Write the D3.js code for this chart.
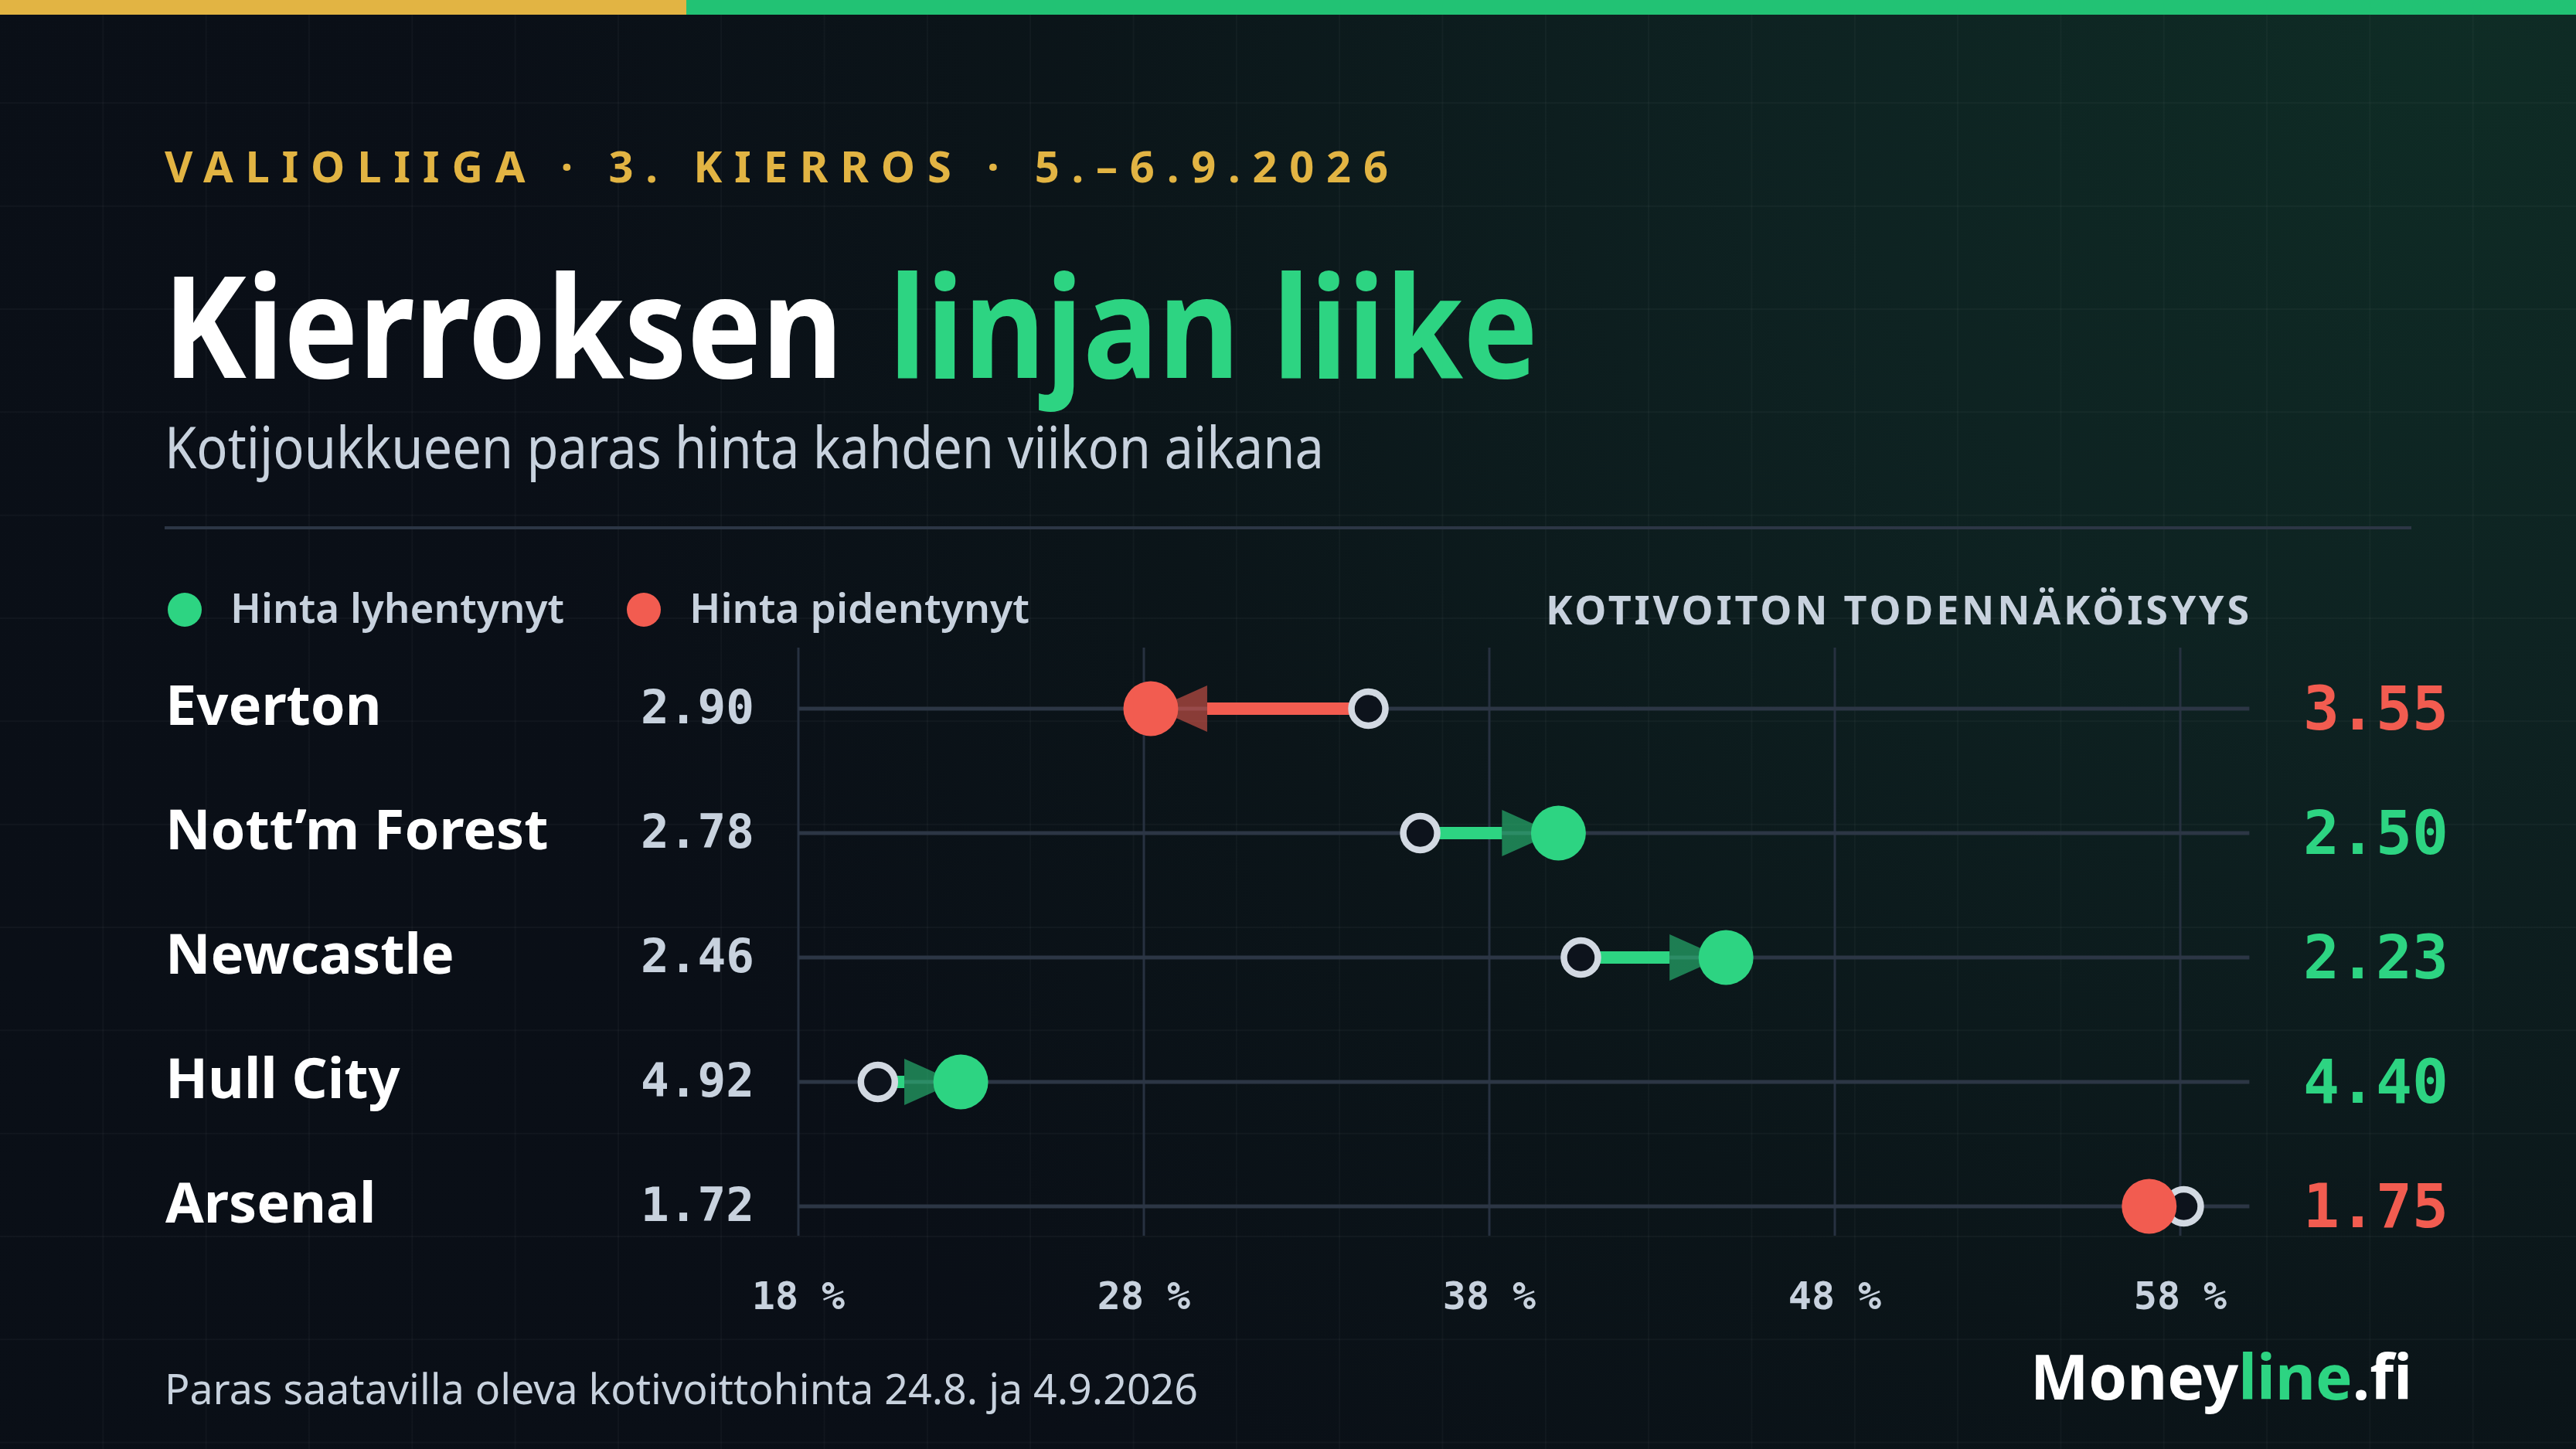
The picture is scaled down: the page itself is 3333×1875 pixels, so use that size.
<!DOCTYPE html>
<html>
<head>
<meta charset="utf-8">
<script src="https://cdn.jsdelivr.net/npm/d3@7"></script>
<style>
  html, body { margin: 0; padding: 0; background: #0a0f17; }
  svg { display: block; }
</style>
</head>
<body>
<script>
// ---------------- DATA ----------------
const kicker = "VALIOLIIGA · 3. KIERROS · 5.–6.9.2026";
const titleWhite = "Kierroksen";
const titleGreen = "linjan liike";
const subtitle = "Kotijoukkueen paras hinta kahden viikon aikana";
const legendLabels = ["Hinta lyhentynyt", "Hinta pidentynyt"];
const axisTitle = "KOTIVOITON TODENNÄKÖISYYS";
const footnote = "Paras saatavilla oleva kotivoittohinta 24.8. ja 4.9.2026";
const brand = ["Money", "line", ".fi"];

const teams = ["Everton", "Nott’m Forest", "Newcastle", "Hull City", "Arsenal"];
const oddsOpen = ["2.90", "2.78", "2.46", "4.92", "1.72"];
const oddsNow  = ["3.55", "2.50", "2.23", "4.40", "1.75"];
// implied home-win probability (%)
const probOpen = [34.5, 36.0, 40.65, 20.3, 58.1];
const probNow  = [28.2, 40.0, 44.85, 22.7, 57.1];
const ticks = [18, 28, 38, 48, 58];
const tickLabels = ["18 %", "28 %", "38 %", "48 %", "58 %"];

// ---------------- STYLE ----------------
const W = 3333, H = 1875;
const C = {
  green: "#2dd482", red: "#f25c50", gold: "#e2b443",
  text: "#c8d2de", white: "#ffffff", rule: "#2c3645",
  grid: "#273140", ringStroke: "#d2d9e2", ringFill: "#0d131c"
};
const SANS = "'Noto Sans', 'Open Sans', sans-serif";
const MONO = "'DejaVu Sans Mono', 'Liberation Mono', monospace";

const svg = d3.select("body").append("svg").attr("width", W).attr("height", H);
const defs = svg.append("defs");

// background
const rg = defs.append("radialGradient").attr("id", "glow")
  .attr("gradientUnits", "userSpaceOnUse").attr("cx", 3200).attr("cy", 0).attr("r", 2600);
rg.append("stop").attr("offset", 0).attr("stop-color", "#0f2e26");
rg.append("stop").attr("offset", 0.35).attr("stop-color", "#0e2322");
rg.append("stop").attr("offset", 0.7).attr("stop-color", "#0b1519");
rg.append("stop").attr("offset", 1).attr("stop-color", "#0a0f17");
const lg = defs.append("linearGradient").attr("id", "base").attr("x1", 0).attr("y1", 0).attr("x2", 0).attr("y2", 1);
lg.append("stop").attr("offset", 0).attr("stop-color", "#0c131c");
lg.append("stop").attr("offset", 1).attr("stop-color", "#090d14");
svg.append("rect").attr("width", W).attr("height", H).attr("fill", "url(#base)");
svg.append("rect").attr("width", W).attr("height", H).attr("fill", "url(#glow)").attr("opacity", 0.95);

// faint background grid
const bgGrid = svg.append("g").attr("stroke", "#ffffff").attr("stroke-opacity", 0.03).attr("stroke-width", 2);
d3.range(1, 25).forEach(i => bgGrid.append("line").attr("x1", i * W / 25).attr("x2", i * W / 25).attr("y1", 0).attr("y2", H));
d3.range(1, 15).forEach(i => bgGrid.append("line").attr("y1", i * 133.33).attr("y2", i * 133.33).attr("x1", 0).attr("x2", W));

// top bar
svg.append("rect").attr("x", 0).attr("y", 0).attr("width", 888).attr("height", 19).attr("fill", C.gold);
svg.append("rect").attr("x", 888).attr("y", 0).attr("width", W - 888).attr("height", 19).attr("fill", "#22c274");

// helpers
function fitSpacing(sel, target) {
  const n = sel.text().length;
  const w0 = sel.node().getComputedTextLength();
  sel.attr("letter-spacing", ((target - w0) / (n - 1)).toFixed(2));
}
function fitLength(sel, target) {
  sel.attr("textLength", target).attr("lengthAdjust", "spacingAndGlyphs");
}

// kicker
const k = svg.append("text").attr("x", 213).attr("y", 236).text(kicker)
  .attr("font-family", SANS).attr("font-weight", 700).attr("font-size", 56).attr("fill", C.gold);
fitSpacing(k, 1583);

// title
const t1 = svg.append("text").attr("x", 211).attr("y", 489).text(titleWhite)
  .attr("font-family", SANS).attr("font-weight", 700).attr("font-size", 184).attr("fill", C.white);
fitLength(t1, 880);
const t2 = svg.append("text").attr("x", 1150).attr("y", 489).text(titleGreen)
  .attr("font-family", SANS).attr("font-weight", 700).attr("font-size", 184).attr("fill", C.green);
fitLength(t2, 840);

// subtitle
const st = svg.append("text").attr("x", 213).attr("y", 606).text(subtitle)
  .attr("font-family", SANS).attr("font-weight", 400).attr("font-size", 74).attr("fill", C.text);
fitLength(st, 1500);

// divider
svg.append("line").attr("x1", 213).attr("x2", 3120).attr("y1", 683).attr("y2", 683)
  .attr("stroke", C.rule).attr("stroke-width", 4);

// legend
const legendX = [239, 833];
const legendColors = [C.green, C.red];
const legendW = [432, 440];
legendLabels.forEach((lab, i) => {
  svg.append("circle").attr("cx", legendX[i]).attr("cy", 789).attr("r", 22).attr("fill", legendColors[i]);
  const lt = svg.append("text").attr("x", legendX[i] + 59).attr("y", 806).text(lab)
    .attr("font-family", SANS).attr("font-weight", 600).attr("font-size", 52).attr("fill", C.text);
  fitLength(lt, legendW[i]);
});

// axis title
const at = svg.append("text").attr("x", 2000).attr("y", 808).text(axisTitle)
  .attr("font-family", SANS).attr("font-weight", 700).attr("font-size", 52).attr("fill", C.text);
fitSpacing(at, 910);

// ---------------- CHART ----------------
const x = d3.scaleLinear().domain([18, 58]).range([1033, 2821]);
const y = d3.scalePoint().domain(teams).range([917, 1561]);
const xEnd = x(60);

// vertical grid lines
svg.append("g").selectAll("line").data(ticks).join("line")
  .attr("x1", d => x(d)).attr("x2", d => x(d)).attr("y1", 838).attr("y2", 1599)
  .attr("stroke", C.grid).attr("stroke-width", 3);

// tick labels
svg.append("g").selectAll("text").data(ticks).join("text")
  .attr("x", d => x(d)).attr("y", 1694).attr("text-anchor", "middle")
  .attr("font-family", MONO).attr("font-weight", 700).attr("font-size", 50).attr("fill", C.text)
  .text((d, i) => tickLabels[i]);

// row lines
svg.append("g").selectAll("line").data(teams).join("line")
  .attr("x1", x(18)).attr("x2", xEnd).attr("y1", d => y(d)).attr("y2", d => y(d))
  .attr("stroke", C.rule).attr("stroke-width", 5);

const rows = teams.map((t, i) => ({
  team: t, o0: oddsOpen[i], o1: oddsNow[i], p0: probOpen[i], p1: probNow[i],
  up: probNow[i] > probOpen[i]
}));

// team names
svg.append("g").selectAll("text").data(rows).join("text")
  .attr("x", 214).attr("y", d => y(d.team) + 21)
  .attr("font-family", SANS).attr("font-weight", 700).attr("font-size", 72).attr("fill", C.white)
  .text(d => d.team);

// opening odds
svg.append("g").selectAll("text").data(rows).join("text")
  .attr("x", 976).attr("y", d => y(d.team) + 19).attr("text-anchor", "end")
  .attr("font-family", MONO).attr("font-weight", 700).attr("font-size", 61).attr("fill", C.text)
  .text(d => d.o0);

// current odds
svg.append("g").selectAll("text").data(rows).join("text")
  .attr("x", 2980).attr("y", d => y(d.team) + 27)
  .attr("font-family", MONO).attr("font-weight", 700).attr("font-size", 78)
  .attr("fill", d => d.up ? C.green : C.red)
  .text(d => d.o1);

// arrows
const arrowG = svg.append("g");
rows.forEach(d => {
  const xa = x(d.p0), xb = x(d.p1), cy = y(d.team);
  const col = d.up ? C.green : C.red;
  if (Math.abs(xb - xa) < 90) return;
  const s = xa > xb ? 1 : -1; // direction back towards the opening dot
  const base = xb + s * 73, tip = xb + s * 6;
  arrowG.append("line").attr("x1", xa).attr("x2", base).attr("y1", cy).attr("y2", cy)
    .attr("stroke", col).attr("stroke-width", 16);
  arrowG.append("path")
    .attr("d", `M${tip},${cy} L${base},${cy - 30} L${base},${cy + 30} Z`)
    .attr("fill", col).attr("fill-opacity", 0.55);
});

// opening dots (rings)
svg.append("g").selectAll("circle").data(rows).join("circle")
  .attr("cx", d => x(d.p0)).attr("cy", d => y(d.team)).attr("r", 22)
  .attr("fill", C.ringFill).attr("stroke", C.ringStroke).attr("stroke-width", 8.5);

// current dots
svg.append("g").selectAll("circle").data(rows).join("circle")
  .attr("cx", d => x(d.p1)).attr("cy", d => y(d.team)).attr("r", 35.5)
  .attr("fill", d => d.up ? C.green : C.red);

// footer
const fn = svg.append("text").attr("x", 213).attr("y", 1817).text(footnote)
  .attr("font-family", SANS).attr("font-weight", 400).attr("font-size", 54).attr("fill", C.text);
fitLength(fn, 1337);

const br = svg.append("text").attr("x", 3121).attr("y", 1811).attr("text-anchor", "end")
  .attr("font-family", SANS).attr("font-weight", 700).attr("font-size", 80);
br.append("tspan").attr("fill", C.white).text(brand[0]);
br.append("tspan").attr("fill", C.green).text(brand[1]);
br.append("tspan").attr("fill", C.white).text(brand[2]);
</script>
</body>
</html>
